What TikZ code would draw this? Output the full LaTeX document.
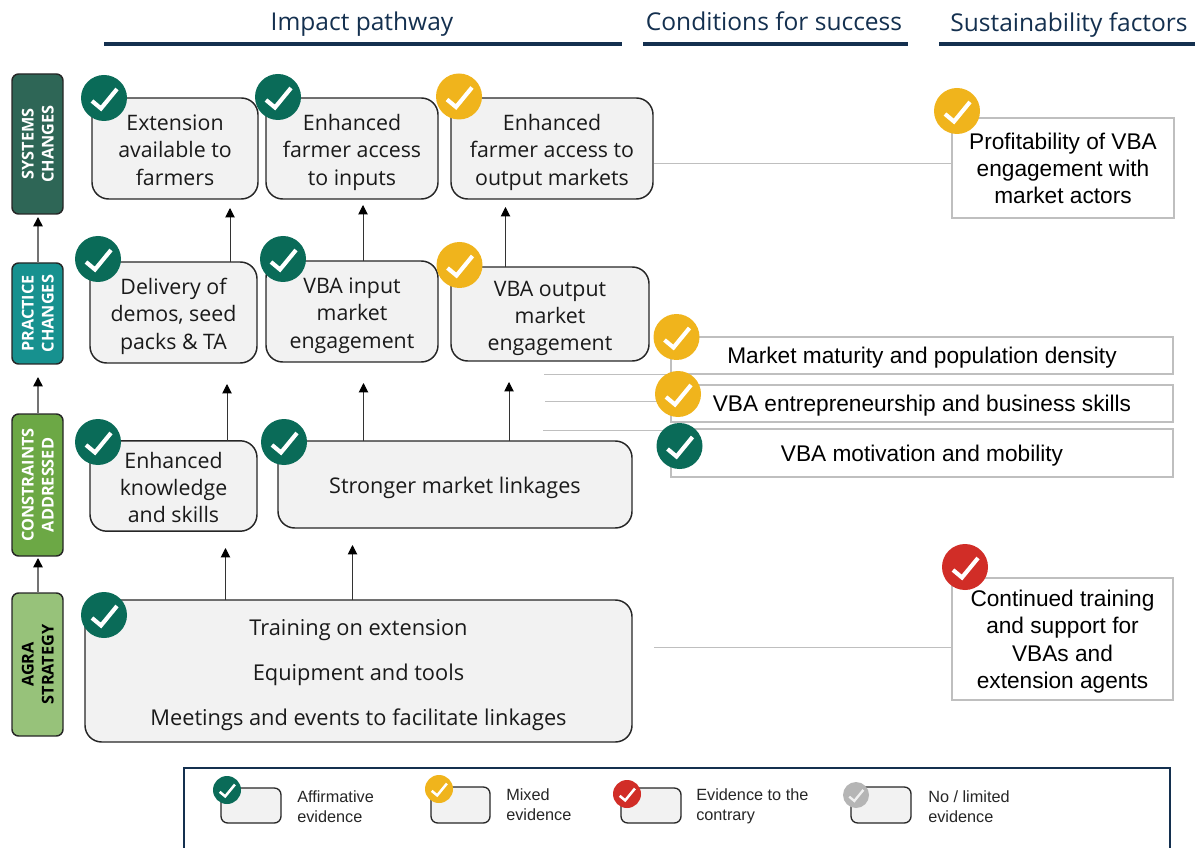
\documentclass[tikz,border=0pt]{standalone}
\usepackage{fontspec}
\setmainfont{Open Sans}
\newfontfamily\arialf{Liberation Sans}
\usetikzlibrary{arrows.meta}
\definecolor{navy}{HTML}{14304F}
\definecolor{cgreen}{HTML}{0A6B58}
\definecolor{cyellow}{HTML}{F0B41C}
\definecolor{cred}{HTML}{D12D27}
\definecolor{cgray}{HTML}{B5B5B5}
\definecolor{sidea}{HTML}{2E6656}
\definecolor{sideb}{HTML}{17918F}
\definecolor{sidec}{HTML}{6CA845}
\definecolor{sided}{HTML}{97C27A}
\definecolor{boxfill}{HTML}{F2F2F2}
\definecolor{lineg}{HTML}{BFBFBF}
\definecolor{textd}{HTML}{1A1A1A}
\newcommand{\extraup}{0pt}
\newcommand{\toprule}{\rule{0pt}{\dimexpr\ht\strutbox+\extraup\relax}}
\tikzset{
  bluebox/.style={draw=black!85,fill=boxfill,rounded corners=12.5pt,line width=1.1pt,inner sep=0pt,outer sep=0pt,align=center,text=textd,font=\fontsize{16}{20.6}\selectfont\def\extraup{6pt}},
  sidebox/.style={draw=black!85,rounded corners=5pt,line width=1.1pt,inner sep=0pt,outer sep=0pt,align=center,font=\fontsize{12.2}{15}\selectfont\bfseries\def\extraup{3pt}},
  factor/.style={draw=lineg,line width=1.1pt,fill=white,inner sep=0pt,outer sep=0pt,align=center,text=black,font=\arialf\fontsize{17}{20.6}\selectfont\def\extraup{4.5pt}},
  legendbox/.style={draw=black!85,fill=boxfill,rounded corners=5pt,line width=1pt,inner sep=0pt,outer sep=0pt},
  legendtext/.style={anchor=west,align=left,inner sep=0pt,text=black!85,font=\arialf\fontsize{12.2}{15}\selectfont},
  titletext/.style={text=navy,inner sep=0pt,font=\fontsize{18.4}{22}\selectfont},
  titlerule/.style={draw=navy,line width=3pt},
  sidearrow/.style={draw=black!55,line width=1.2pt,-{Triangle[width=7pt,length=7pt,color=black]}},
  innerarrow/.style={draw=black!80,line width=.75pt,-{Triangle[width=7pt,length=7pt,color=black]}},
  link/.style={draw=lineg,line width=.75pt},
}
% name, x1, y1, x2, y2, style, text
\newcommand{\bx}[7]{%
  \pgfmathsetlengthmacro{\bw}{(#4-#2)*0.75pt}%
  \pgfmathsetlengthmacro{\bh}{(#5-#3)*0.75pt}%
  \node[#6,minimum width=\bw,minimum height=\bh] (#1) at ({(#2+#4)/2},{(#3+#5)/2}) {\toprule#7\strut};}
% name, y1, y2, fill, text colour, text
\newcommand{\sd}[6]{%
  \pgfmathsetlengthmacro{\bw}{(#3-#2)*0.75pt}%
  \node[sidebox,rotate=90,fill=#4,text=#5,minimum width=\bw,minimum height=38.25pt] (#1) at (37.5,{(#2+#3)/2}) {\toprule#6\strut};}
% name, x, y, colour, radius, tick colour
\newcommand{\chk}[6]{%
  \pgfmathsetlengthmacro{\bd}{2*#5*0.75pt}%
  \pgfmathsetmacro{\bs}{#5/23}%
  \pgfmathsetlengthmacro{\bl}{#5/23*3.1pt}%
  \node[circle,fill=#4,inner sep=0pt,outer sep=0pt,minimum size=\bd] (#1) at (#2,#3) {};
  \draw[#6,line width=\bl,shift={(#1.center)},scale=\bs] (-12,3) -- (-3,10.5) -- (13,-9);}
\begin{document}
\begin{tikzpicture}[x=0.75pt,y=-0.75pt]
\useasboundingbox (0,0) rectangle (1195,848);
% headings
\node[titletext] (t1) at (362,25) {\strut Impact pathway\strut};
\node[titletext] (t2) at (774,25) {\strut Conditions for success\strut};
\node[titletext] (t3) at (1069,26) {\strut Sustainability factors\strut};
\coordinate (r1a) at (104,44); \coordinate (r1b) at (622,44);
\coordinate (r2a) at (643,44); \coordinate (r2b) at (908,44);
\coordinate (r3a) at (939,44); \coordinate (r3b) at (1195,44);
\draw[titlerule] (r1a) -- (r1b);
\draw[titlerule] (r2a) -- (r2b);
\draw[titlerule] (r3a) -- (r3b);
% side bars
\sd{sSys}{74}{214}{sidea}{white}{SYSTEMS\\CHANGES}
\sd{sPra}{263}{364}{sideb}{white}{PRACTICE\\CHANGES}
\sd{sCon}{414}{556}{sidec}{white}{CONSTRAINTS\\ADDRESSED}
\sd{sAgr}{593}{736}{sided}{black}{AGRA\\STRATEGY}
\coordinate (ta) at (38,217); \coordinate (tb) at (38,377); \coordinate (tc) at (38,558);
\draw[sidearrow] (ta |- sPra.east) -- (ta);
\draw[sidearrow] (tb |- sCon.east) -- (tb);
\draw[sidearrow] (tc |- sAgr.east) -- (tc);
% gray links
\coordinate (la) at (654,164); \coordinate (lb) at (654,647);
\coordinate (lc) at (544,374.5); \coordinate (ld) at (545,401); \coordinate (le) at (543,430);
% factor boxes
\bx{fProf}{952}{118}{1174}{218}{factor}{Profitability of VBA\\engagement with\\market actors}
\bx{fCont}{952}{578}{1173}{700}{factor}{Continued training\\and support for\\VBAs and\\extension agents}
\bx{fMark}{671}{337}{1173}{374}{factor}{Market maturity and population density}
\bx{fEntr}{671}{385}{1173}{422}{factor}{VBA entrepreneurship and business skills}
\bx{fMoti}{671}{429}{1173}{477}{factor}{VBA motivation and mobility}
\draw[link] (la) -- (la -| fProf.west);
\draw[link] (lb) -- (lb -| fCont.west);
\draw[link] (lc) -- (lc -| fMark.west);
\draw[link] (ld) -- (ld -| fEntr.west);
\draw[link] (le) -- (le -| fMoti.west);
% pathway boxes
\bx{bExt}{92}{98}{258}{199}{bluebox}{Extension\\available to\\farmers}
\bx{bInp}{266}{98}{438}{199}{bluebox}{Enhanced\\farmer access\\to inputs}
\bx{bOut}{451}{98}{653}{199}{bluebox}{Enhanced\\farmer access to\\output markets}
\bx{bDel}{90}{262}{257}{363}{bluebox}{Delivery of\\demos, seed\\packs \& TA}
\bx{bVin}{266}{261}{438}{362}{bluebox}{VBA input\\market\\engagement}
\bx{bVou}{451}{267}{649}{361}{bluebox}{VBA output\\market\\engagement}
\bx{bKno}{90}{441}{257}{531}{bluebox}{Enhanced\\knowledge\\and skills}
\bx{bLin}{278}{441}{632}{528}{bluebox,font=\fontsize{16.2}{20.6}\selectfont\def\extraup{6pt}}{Stronger market linkages}
\bx{bTra}{85}{600}{632}{742}{bluebox,font=\fontsize{16.35}{20.6}\selectfont\def\extraup{6pt}}{Training on extension\\[13.15pt]Equipment and tools\\[13.15pt]Meetings and events to facilitate linkages}
% pathway arrows
\coordinate (a1) at (230,208); \coordinate (a2) at (363,205); \coordinate (a3) at (505.5,207);
\coordinate (a4) at (227,384); \coordinate (a5) at (363.5,383); \coordinate (a6) at (509,382);
\coordinate (a7) at (225.5,548); \coordinate (a8) at (352.5,545);
\draw[innerarrow] (a1 |- bDel.north) -- (a1);
\draw[innerarrow] (a2 |- bVin.north) -- (a2);
\draw[innerarrow] (a3 |- bVou.north) -- (a3);
\draw[innerarrow] (a4 |- bKno.north) -- (a4);
\draw[innerarrow] (a5 |- bLin.north) -- (a5);
\draw[innerarrow] (a6 |- bLin.north) -- (a6);
\draw[innerarrow] (a7 |- bTra.north) -- (a7);
\draw[innerarrow] (a8 |- bTra.north) -- (a8);
% ticks
\chk{cExt}{104}{98}{cgreen}{23}{white}
\chk{cInp}{278}{97}{cgreen}{23}{white}
\chk{cOut}{459}{96.5}{cyellow}{23}{white}
\chk{cDel}{98}{259}{cgreen}{23}{white}
\chk{cVin}{283}{259}{cgreen}{23}{white}
\chk{cVou}{459.5}{265}{cyellow}{23}{white}
\chk{cKno}{98}{442}{cgreen}{23}{white}
\chk{cLin}{284}{442}{cgreen}{23}{white}
\chk{cTra}{104}{615}{cgreen}{23}{white}
\chk{cProf}{957}{111}{cyellow}{23}{white}
\chk{cCont}{965}{567}{cred}{23}{white}
\chk{cMark}{676.5}{337}{cyellow}{23}{white}
\chk{cEntr}{678}{394}{cyellow}{23}{white}
\chk{cMoti}{679.5}{446}{cgreen}{23}{white}
% legend
\coordinate (lg1) at (184,848); \coordinate (lg2) at (184,768);
\coordinate (lg3) at (1170,768); \coordinate (lg4) at (1170,848);
\draw[navy,line width=1.2pt] (lg1) -- (lg2) -- (lg3) -- (lg4);
\bx{l1}{221}{788}{281}{823}{legendbox}{}
\bx{l2}{431}{787}{490}{823}{legendbox}{}
\bx{l3}{621}{788}{681}{823}{legendbox}{}
\bx{l4}{851}{787}{911}{823}{legendbox}{}
\chk{cl1}{227}{790}{cgreen}{14}{white}
\chk{cl2}{439}{789}{cyellow}{14}{white}
\chk{cl3}{627}{794}{cred}{14}{white}
\chk{cl4}{856}{795}{cgray}{13}{white!80!cgray}
\node[legendtext] (lt1) at (297,808) {\strut Affirmative\\evidence\strut};
\node[legendtext] (lt2) at (506,806) {\strut Mixed\\evidence\strut};
\node[legendtext] (lt3) at (696,806) {\strut Evidence to the\\contrary\strut};
\node[legendtext] (lt4) at (928,808) {\strut No / limited\\evidence\strut};
\end{tikzpicture}
\end{document}
